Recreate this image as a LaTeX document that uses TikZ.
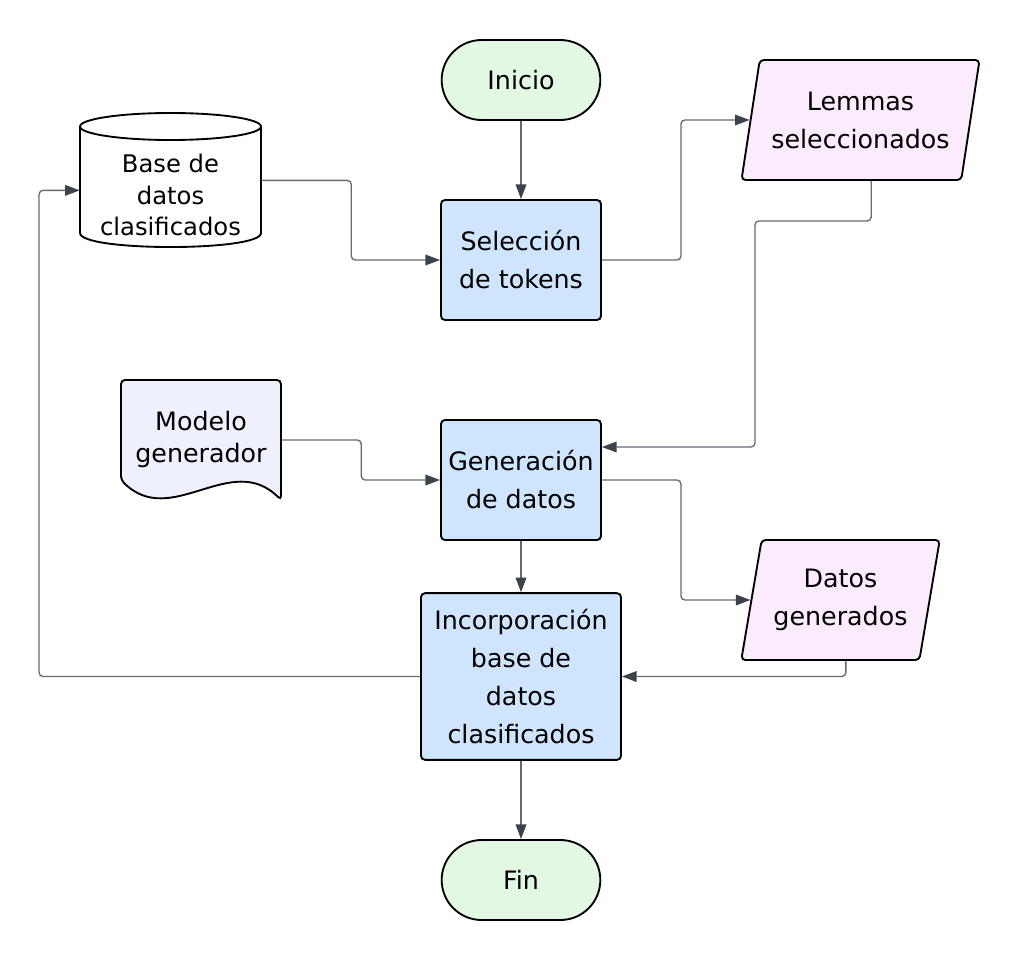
\documentclass[tikz,border=0pt]{standalone}
\usepackage{fontspec}
\setmainfont{DejaVu Sans}
\usetikzlibrary{shapes.geometric,arrows.meta}
\usepackage{xcolor}
\definecolor{verde}{HTML}{E2F8E2}
\definecolor{azul}{HTML}{CFE4FD}
\definecolor{rosa}{HTML}{FBEBFD}
\definecolor{lila}{HTML}{EFF0FD}
\definecolor{gris}{HTML}{646973}
\definecolor{punta}{HTML}{3D434C}

\begin{document}
\begin{tikzpicture}[x=0.75pt,y=-0.75pt,
        every node/.style={font=\fontsize{19}{28.5}\selectfont,align=center,inner sep=2pt},
        terminal/.style={draw,line width=1.4pt,fill=verde,rounded corners=30pt,minimum width=119pt,minimum height=60pt},
        caja/.style={draw,line width=1.4pt,fill=azul,rounded corners=3pt,minimum width=120pt,minimum height=90pt},
        entrada/.style={trapezium,trapezium left angle=75,trapezium right angle=105,trapezium stretches=true,
                draw,line width=1.4pt,fill=rosa,rounded corners=3pt,minimum height=90pt},
        flujo/.style={draw=gris,line width=1pt,rounded corners=3pt,-{Triangle[length=11pt,width=8pt,color=punta]}}]
        \useasboundingbox (0,0) rectangle (1021,960);
        % cilindro de la base de datos
        \draw[line width=1.4pt,fill=white] (80,126.5) -- (80,233) .. controls +(0,18.7) and +(0,18.7) .. (261,233) -- (261,126.5);
        \draw[line width=1.4pt,fill=white] (170.5,126.5) ellipse [x radius=90.5,y radius=13.5];
        % documento del modelo
        \draw[line width=1.4pt,fill=lila,rounded corners=3pt] (121,480) -- (121,380) -- (281,380) -- (281,500)
                .. controls (231,450) and (171,530) .. cycle;
        % nodos
        \node[terminal] (inicio) at (521,80) {Inicio};
        \node[caja] (sel) at (521,260) {Selección\\de tokens};
        \node[minimum width=135.75pt,minimum height=90pt,font=\fontsize{18.2}{23.5}\selectfont] (db) at (170.5,195) {Base de\\datos\\clasificados};
        \node[entrada,minimum width=179pt] (lemmas) at (860.5,120) {Lemmas\\seleccionados};
        \node[minimum width=120pt,minimum height=90pt,font=\fontsize{19}{24}\selectfont] (modelo) at (201,440) {Modelo\\generador};
        \node[caja] (gen) at (521,480) {Generación\\de datos};
        \node[entrada,minimum width=149pt] (datos) at (840.5,600) {Datos\\generados};
        \node[caja,minimum width=150pt,minimum height=125pt] (inc) at (521,676.5) {Incorporación\\base de\\datos\\clasificados};
        \node[terminal] (fin) at (521,880) {Fin};
        % conexiones
        \draw[flujo] (inicio) -- (sel);
        \draw[flujo] ([yshift=11pt]db.east) -- ++(90,0) |- (sel.west);
        \draw[flujo] (sel.east) -- ++(79,0) |- (lemmas.west);
        \draw[flujo] ([xshift=8pt]lemmas.south) -- ++(0,40) -| (755,447) -- (gen.east |- 755,447);
        \draw[flujo] (modelo.east) -- ++(80,0) |- (gen.west);
        \draw[flujo] (gen.east) -- ++(79,0) |- (datos.west);
        \draw[flujo] (gen) -- (inc);
        \draw[flujo] ([xshift=4pt]datos.south) |- (inc.east);
        \draw[flujo] (inc.west) -- ++(-381,0) |- ([yshift=3.5pt]db.west);
        \draw[flujo] (inc) -- (fin);
        \end{tikzpicture}
\end{document}
